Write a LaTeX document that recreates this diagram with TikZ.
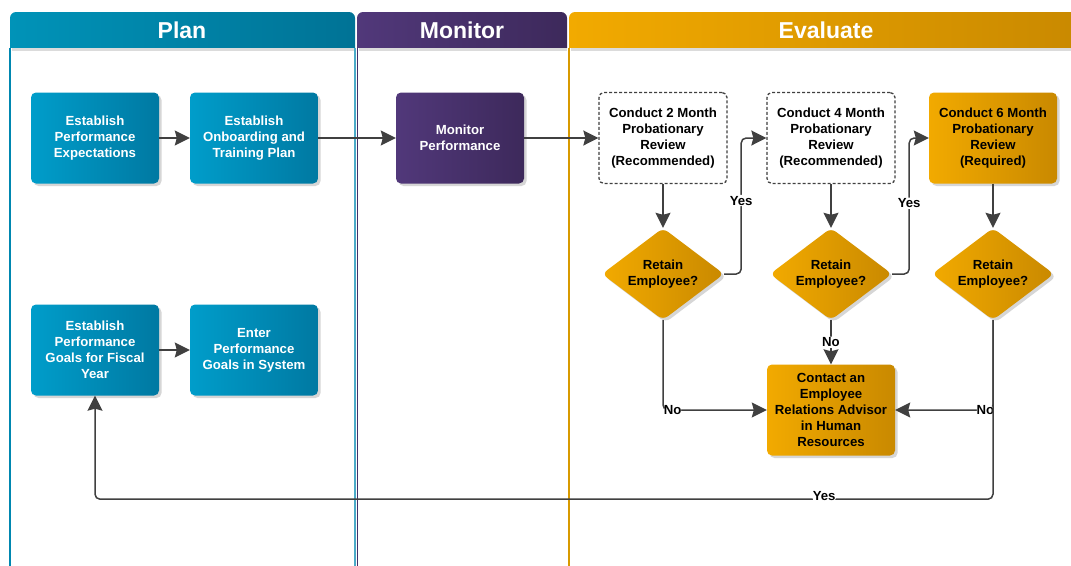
\documentclass[tikz,border=0pt]{standalone}
\usepackage{fontspec}
\setmainfont{Liberation Sans}
\usetikzlibrary{shapes.geometric,arrows.meta,shadows}
\definecolor{blueA}{HTML}{009DCA}
\definecolor{blueB}{HTML}{0079A2}
\definecolor{purA}{HTML}{51387A}
\definecolor{purB}{HTML}{3D295B}
\definecolor{orA}{HTML}{F2AA00}
\definecolor{orB}{HTML}{C98900}
\definecolor{planC}{HTML}{0087B0}
\definecolor{monC}{HTML}{43306A}
\definecolor{evC}{HTML}{D89A00}
\definecolor{lineC}{HTML}{404040}
\tikzset{
  shd/.style={drop shadow={shadow xshift=2.5pt, shadow yshift=-2.5pt, fill=black!16, opacity=1}},
  box/.style={rectangle, rounded corners=5, minimum width=128, minimum height=91, align=center, inner sep=2},
  bluebox/.style={box, shd, left color=blueA, right color=blueB, text=white},
  purplebox/.style={box, shd, left color=purA, right color=purB, text=white},
  orangebox/.style={box, shd, left color=orA, right color=orB, text=black},
  dashbox/.style={box, draw=lineC, fill=white, line width=1.3, dash pattern=on 3pt off 2pt, text=black},
  dia/.style={diamond, aspect=1.33, minimum width=122, minimum height=92, inner sep=0, align=center, rounded corners=6, shd, left color=orA, right color=orB, text=black},
  arr/.style={draw=lineC, line width=1.5, rounded corners=5, -{Stealth[length=15pt,width=15pt,inset=2pt]}},
  lbl/.style={fill=white, inner sep=1pt, text=black},
  hdr/.style={text=white, font=\fontsize{23}{27}\selectfont\bfseries},
}
\begin{document}
\begin{tikzpicture}[x=1pt,y=-1pt, font=\fontsize{13.2}{16}\selectfont\bfseries]
\useasboundingbox (0,0) rectangle (1071,565);
\clip (0,0) rectangle (1071,565);
% lanes: headers
\shade[left color=planC!90!cyan, right color=planC!85!black, rounded corners=6] (10,12) rectangle (355,56);
\shade[left color=purA, right color=purB, rounded corners=6] (357,12) rectangle (567,56);
\shade[left color=orA, right color=orB, rounded corners=6] (569,12) rectangle (1083,56);
% lane bodies
\fill[white] (10,48) rectangle (1083,570);
\fill[black!14] (12,48) rectangle (355,51);
\fill[black!14] (359,48) rectangle (567,51);
\fill[black!14] (571,48) rectangle (1083,51);
\draw[planC, line width=2] (10,48) -- (10,570);
\draw[planC!70, line width=1.5] (355,48) -- (355,570);
\draw[monC, line width=1.5] (357.5,48) -- (357.5,570);
\draw[evC, line width=2] (569,48) -- (569,570);
\node[hdr] (hplan) at (182,30) {Plan};
\node[hdr] (hmon) at (462,30) {Monitor};
\node[hdr] (heval) at (826,30) {Evaluate};
% nodes
\node[bluebox] (exp) at (95,138) {Establish\\Performance\\Expectations};
\node[bluebox] (onb) at (254,138) {Establish\\Onboarding and\\Training Plan};
\node[purplebox] (mon) at (460,138) {Monitor\\Performance};
\node[dashbox] (c2) at (663,138) {Conduct 2 Month\\Probationary\\Review\\(Recommended)};
\node[dashbox] (c4) at (831,138) {Conduct 4 Month\\Probationary\\Review\\(Recommended)};
\node[orangebox] (c6) at (993,138) {Conduct 6 Month\\Probationary\\Review\\(Required)};
\node[dia] (d1) at (663,274) {Retain\\Employee?};
\node[dia] (d2) at (831,274) {Retain\\Employee?};
\node[dia] (d3) at (993,274) {Retain\\Employee?};
\node[orangebox] (hr) at (831,410) {Contact an\\Employee\\Relations Advisor\\in Human\\Resources};
\node[bluebox] (goals) at (95,350) {Establish\\Performance\\Goals for Fiscal\\Year};
\node[bluebox] (sys) at (254,350) {Enter\\Performance\\Goals in System};
% connectors
\draw[arr] (exp) -- (onb);
\draw[arr] (onb) -- (mon);
\draw[arr] (mon) -- (c2);
\draw[arr] (c2) -- (d1);
\draw[arr] (c4) -- (d2);
\draw[arr] (c6) -- (d3);
\draw[arr] (d1.east) -- ++(17,0) |- node[lbl, pos=0.27] {Yes} (c4.west);
\draw[arr] (d2.east) -- ++(17,0) |- node[lbl, pos=0.26] {Yes} (c6.west);
\draw[arr] (d2.south) -- node[lbl] {No} (hr.north);
\draw[arr] (d1.south) |- node[lbl, pos=0.5, anchor=west, inner sep=0pt] {No} (hr.west);
\draw[arr] (d3.south) |- node[lbl, pos=0.5, anchor=east, inner sep=0pt, xshift=2pt] {No} (hr.east);
\draw[arr] (d3.south) -- ++(0,179) -| node[lbl, pos=0.094, anchor=base, yshift=-1pt] {Yes} (goals.south);
\draw[arr] (goals) -- (sys);
\end{tikzpicture}
\end{document}
